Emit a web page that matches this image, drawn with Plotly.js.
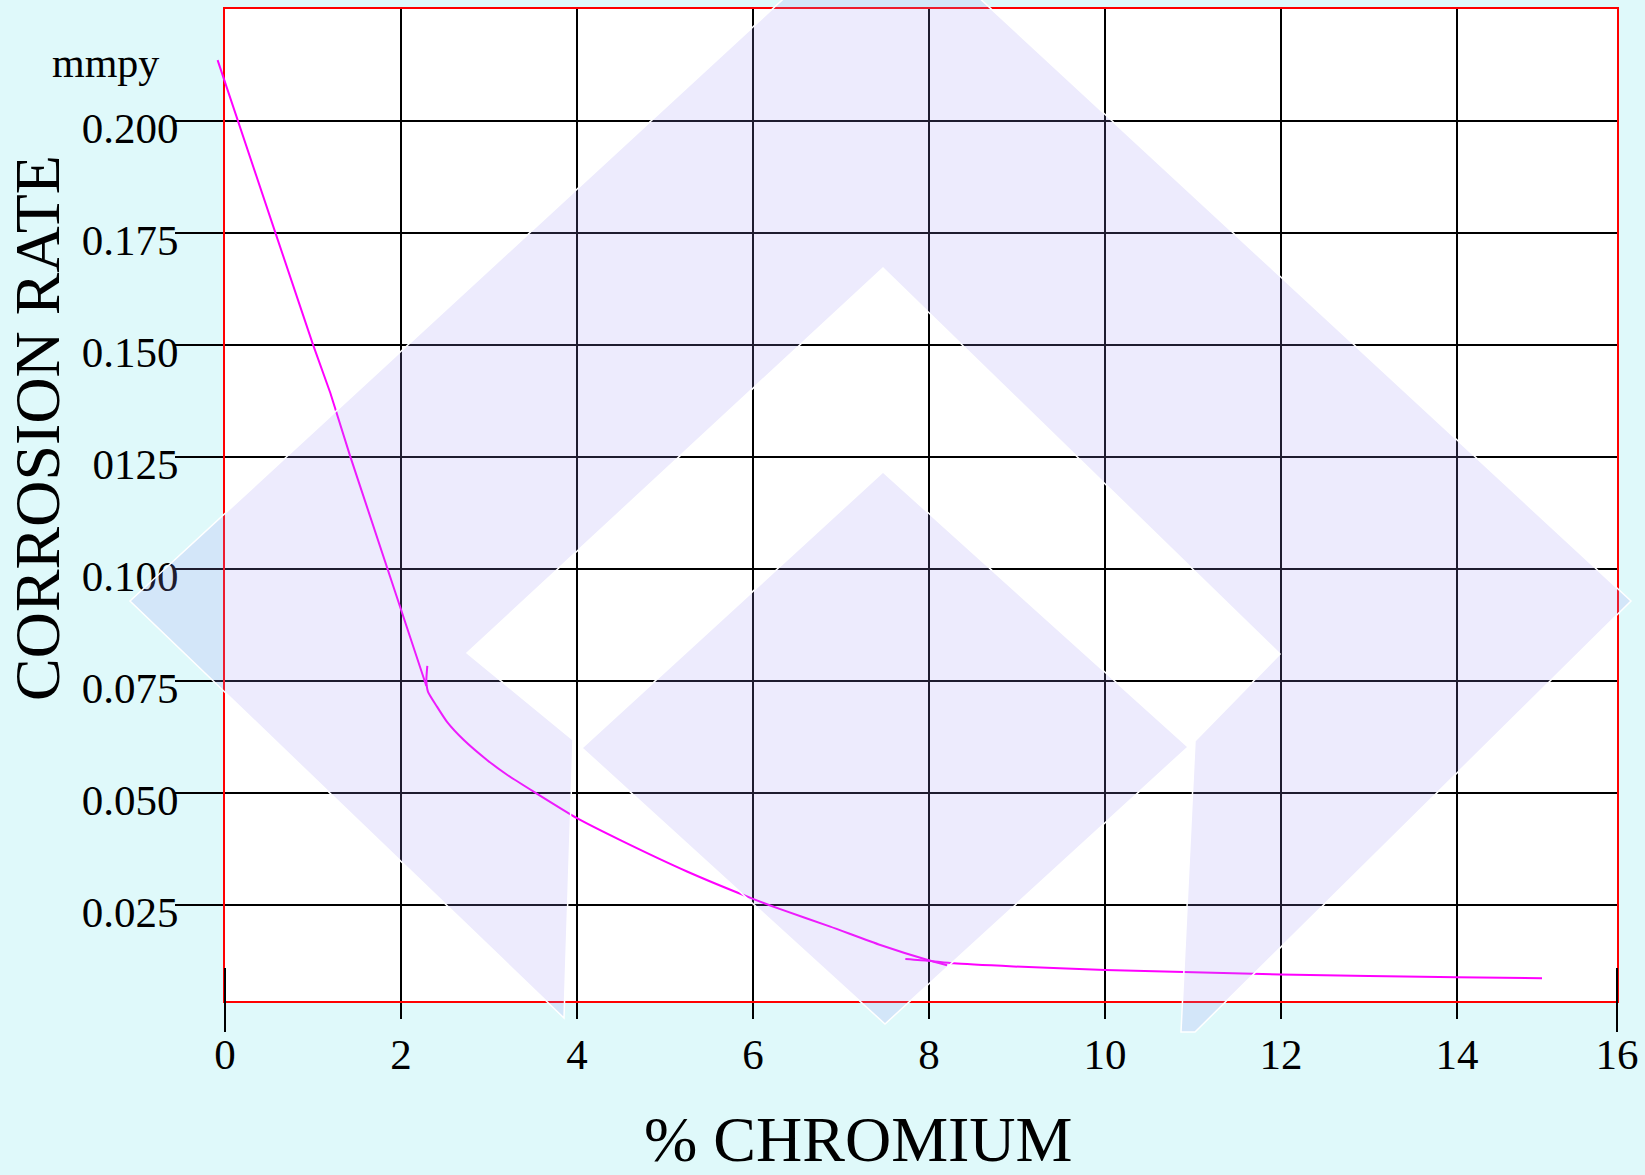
<!DOCTYPE html>
<html>
<head>
<meta charset="utf-8">
<script src="https://cdn.plot.ly/plotly-3.0.1.min.js"></script>
<style>
  html, body { margin: 0; padding: 0; background: #DFF9FA; }
  #chart { width: 1645px; height: 1175px; }
</style>
</head>
<body>
<div id="chart"></div>
<script>
// ---- data (x: % chromium, y: corrosion rate in mmpy) ----
const steepX = [-0.084, 0.143, 0.572, 1.000, 1.197, 1.424, 1.848, 2.276, 2.288];
const steepY = [0.2135, 0.2000, 0.1750, 0.1500, 0.1392, 0.1250, 0.1000, 0.0750, 0.0738];

const bendX = [2.299, 2.288, 2.307, 2.409, 2.523, 2.711, 2.977, 3.205, 3.526, 4.000,
               4.492, 5.250, 6.000, 6.310, 6.878, 7.447, 7.977, 8.205];
const bendY = [0.0783, 0.0750, 0.0725, 0.0692, 0.0658, 0.0618, 0.0573, 0.0540, 0.0500, 0.0443,
               0.0394, 0.0324, 0.0263, 0.0240, 0.0201, 0.0160, 0.0127, 0.0115];

const tailX = [7.731, 7.995, 8.280, 8.961, 10.003, 10.893, 11.995, 14.000, 14.966];
const tailY = [0.0129, 0.0125, 0.0119, 0.0112, 0.0104, 0.0100, 0.0094, 0.0088, 0.0086];

const xTickVals = [0, 2, 4, 6, 8, 10, 12, 14, 15.818];
const xTickText = ['0', '2', '4', '6', '8', '10', '12', '14', '16'];
const yTickVals = [0.025, 0.050, 0.075, 0.100, 0.125, 0.150, 0.175, 0.200];
const yTickText = ['0.025', '0.050', '0.075', '0.100', '0125', '0.150', '0.175', '0.200'];

const xTitle = '% CHROMIUM';
const yTitle = 'CORROSION RATE';
const yUnit = 'mmpy';

// ---- layout geometry ----
const W = 1645, H = 1175;
const M = { l: 200, r: 28, t: 9, b: 174 };   // paper area; the framed plot starts at 225px
const PW = W - M.l - M.r, PH = H - M.t - M.b;
const px = v => (v - M.l) / PW;          // figure pixel -> paper x
const py = v => (H - M.b - v) / PH;      // figure pixel -> paper y
const frameLeft = px(225);
const xRange = [0, 15.818];
const pxPerUnit = (W - M.r - 225) / (xRange[1] - xRange[0]);
const curveRange = [xRange[0] - (225 - M.l) / pxPerUnit, xRange[1]];  // lets the curve start left of the frame
const yRange = [0.0035, 0.2249];

// background watermark logo (figure pixel coordinates)
const logoBand = [[130,601],[882,-92],[1631,601],[1195,1032],[1181,1032],[1195,741],
                  [1280,654],[883,268],[467,653],[573,740],[564,1018]];
const logoCore = [[883,472],[1188,747],[885,1024],[582,748]];
const toPath = pts => 'M ' + pts.map(p => px(p[0]).toFixed(5) + ',' + py(p[1]).toFixed(5)).join(' L ') + ' Z';

const serif = 'Liberation Serif, Times New Roman, serif';
const lineStyle = { color: '#FF00FF', width: 2 };
const splineStyle = Object.assign({ shape: 'spline', smoothing: 0.5 }, lineStyle);

const traces = [
  { x: steepX, y: steepY, xaxis: 'x2', yaxis: 'y2', mode: 'lines', line: lineStyle, hoverinfo: 'skip', showlegend: false },
  { x: bendX, y: bendY, xaxis: 'x2', yaxis: 'y2', mode: 'lines', line: splineStyle, hoverinfo: 'skip', showlegend: false },
  { x: tailX, y: tailY, xaxis: 'x2', yaxis: 'y2', mode: 'lines', line: splineStyle, hoverinfo: 'skip', showlegend: false },
  // invisible anchor trace for the framed axes
  { x: [xRange[0]], y: [yRange[0]], xaxis: 'x', yaxis: 'y', mode: 'markers', marker: { opacity: 0 }, hoverinfo: 'skip', showlegend: false }
];

const logoFill = 'rgba(158,148,242,0.19)';
const tickFont = { family: serif, size: 43, color: '#000000' };

const layout = {
  width: W, height: H,
  margin: M,
  paper_bgcolor: '#DFF9FA',
  plot_bgcolor: 'rgba(0,0,0,0)',
  showlegend: false,
  xaxis: {
    domain: [frameLeft, 1],
    range: xRange,
    tickmode: 'array', tickvals: xTickVals, ticktext: xTickText,
    showgrid: true, gridcolor: '#000000', gridwidth: 2,
    ticks: 'outside', ticklen: 16, tickwidth: 2, tickcolor: '#000000',
    showline: true, linecolor: '#FF0000', linewidth: 2, mirror: true,
    zeroline: false,
    tickfont: tickFont,
    ticklabelstandoff: -2,
    automargin: false, fixedrange: true
  },
  yaxis: {
    domain: [0, 1],
    range: yRange,
    tickmode: 'array', tickvals: yTickVals, ticktext: yTickText,
    showgrid: true, gridcolor: '#000000', gridwidth: 2,
    ticks: 'outside', ticklen: 48, tickwidth: 2, tickcolor: '#000000',
    showline: true, linecolor: '#FF0000', linewidth: 2, mirror: true,
    zeroline: false,
    tickfont: tickFont,
    ticklabelshift: 7,
    ticklabelstandoff: -12,
    automargin: false, fixedrange: true
  },
  xaxis2: { domain: [0, 1], range: curveRange, anchor: 'y2', visible: false, showgrid: false, zeroline: false, fixedrange: true },
  yaxis2: { domain: [0, 1], range: yRange, anchor: 'x2', visible: false, showgrid: false, zeroline: false, fixedrange: true },
  shapes: [
    { type: 'rect', xref: 'paper', yref: 'paper', x0: frameLeft, x1: 1, y0: 0, y1: 1,
      fillcolor: '#FFFFFF', line: { width: 0 }, layer: 'below' },
    { type: 'path', xref: 'paper', yref: 'paper', path: toPath(logoBand), fillcolor: logoFill,
      line: { color: '#FFFFFF', width: 1.5 }, layer: 'above' },
    { type: 'path', xref: 'paper', yref: 'paper', path: toPath(logoCore), fillcolor: logoFill,
      line: { color: '#FFFFFF', width: 1.5 }, layer: 'above' },
    { type: 'line', xref: 'paper', yref: 'paper', x0: frameLeft, x1: frameLeft, y0: py(968), y1: py(1032),
      line: { color: '#000000', width: 2 }, layer: 'above' },
    { type: 'line', xref: 'paper', yref: 'paper', x0: 1, x1: 1, y0: py(968), y1: py(1032),
      line: { color: '#000000', width: 2 }, layer: 'above' }
  ],
  annotations: [
    { text: yUnit, xref: 'paper', yref: 'paper', x: px(105), y: py(63), showarrow: false,
      xanchor: 'center', yanchor: 'middle', font: { family: serif, size: 42, color: '#000000' } },
    { text: xTitle, xref: 'paper', yref: 'paper', x: px(858), y: py(1102), showarrow: false,
      xanchor: 'center', yanchor: 'top', font: { family: serif, size: 64, color: '#000000' } },
    { text: yTitle, xref: 'paper', yref: 'paper', x: px(37), y: py(428), showarrow: false,
      textangle: -90, xanchor: 'center', yanchor: 'middle', font: { family: serif, size: 64, color: '#000000' } }
  ]
};

Plotly.newPlot('chart', traces, layout, { displayModeBar: false, staticPlot: true });
</script>
</body>
</html>
